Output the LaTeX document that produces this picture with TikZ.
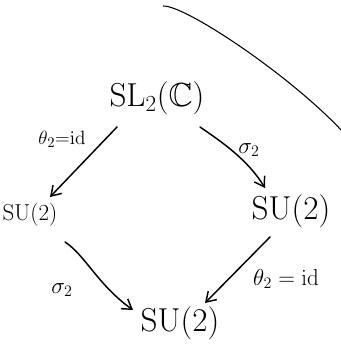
\documentclass[tikz,border=0pt]{standalone}
\usepackage{amssymb}
\usetikzlibrary{arrows.meta}
\begin{document}
\begin{tikzpicture}[x=0.75pt,y=-0.75pt,
  obj/.style={inner sep=0pt,font=\fontsize{25}{28}\selectfont},
  objs/.style={inner sep=0pt,font=\fontsize{17}{20}\selectfont},
  lab/.style={inner sep=0pt,font=\fontsize{15}{18}\selectfont},
  labb/.style={inner sep=0pt,font=\fontsize{17}{20}\selectfont},
  arr/.style={line width=1.1pt,-{Straight Barb[length=7pt,width=9pt]},line cap=round},
  stroke/.style={line width=0.8pt}]
\useasboundingbox (0,0) rectangle (340,353);
\node[obj] (sl) at (157,98) {$\mathrm{SL}_2(\mathbb{C})$};
\node[objs] (sul) at (30,215) {$\mathrm{SU}(2)$};
\node[obj] (sur) at (291,211) {$\mathrm{SU}(2)$};
\node[obj,font=\fontsize{24}{27}\selectfont] (sub) at (180,323) {$\mathrm{SU}(2)$};
\node[lab] (l1) at (62,139) {$\theta_2{=}\mathrm{id}$};
\node[labb] (l2) at (249,150) {$\sigma_2$};
\node[labb] (l3) at (62,290) {$\sigma_2$};
\node[lab,font=\fontsize{16.5}{19}\selectfont] (l4) at (286,279) {$\theta_2=\mathrm{id}$};
\draw[arr] ([shift={(-40,29)}]sl.center) -- ([shift={(20,-18)}]sul.center);
\draw[arr] ([shift={(43,29)}]sl.center) .. controls (222,142) and (248,160) .. ([shift={(-26,-23)}]sur.center);
\draw[arr] ([shift={(35,27)}]sul.center) .. controls (85,255) and (98,285) .. ([shift={(-47,-13)}]sub.center);
\draw[arr] ([shift={(-21,26)}]sur.center) -- ([shift={(25,-20)}]sub.center);
\coordinate (c0) at (163,6);
\coordinate (c1) at (343,132);
\draw[stroke] (c0) .. controls (185,5) and (290,75) .. (c1);
\end{tikzpicture}
\end{document}
